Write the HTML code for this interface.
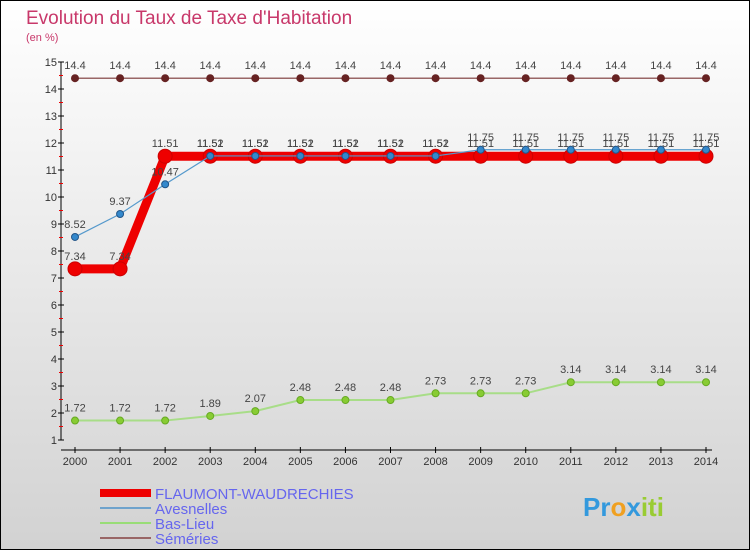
<!DOCTYPE html>
<html><head><meta charset="utf-8"><style>
body{margin:0;width:750px;height:550px;overflow:hidden}
svg{display:block;font-family:"Liberation Sans",sans-serif}
</style></head><body>
<svg id="c" width="750" height="550">
<defs><linearGradient id="bg" x1="0" y1="0" x2="0" y2="1"><stop offset="0" stop-color="#ffffff"/><stop offset="1" stop-color="#d2d2d2"/></linearGradient></defs>
<rect x="0.5" y="0.5" width="749" height="549" fill="url(#bg)" stroke="#000"/>
<text x="26" y="24" font-size="19" fill="#c8386a">Evolution du Taux de Taxe d'Habitation</text>
<text x="26" y="41" font-size="11" fill="#c8386a">(en %)</text>
<g id="axes"></g><g id="series"></g>
<g>
<rect x="100" y="489" width="51" height="8" fill="#ee0000"/>
<text x="155" y="499" font-size="15" fill="#6666ee">FLAUMONT-WAUDRECHIES</text>
<rect x="100" y="507" width="51" height="2" fill="#6fa3cc"/>
<text x="155" y="514" font-size="15" fill="#6666ee">Avesnelles</text>
<rect x="100" y="522" width="51" height="2" fill="#99dd77"/>
<text x="155" y="529" font-size="15" fill="#6666ee">Bas-Lieu</text>
<rect x="100" y="537" width="51" height="2" fill="#996666"/>
<text x="155" y="544" font-size="15" fill="#6666ee">Séméries</text>
</g>
<text x="583" y="516" font-size="26" font-weight="bold"><tspan fill="#3399dd">Pr</tspan><tspan fill="#f0a020">o</tspan><tspan fill="#3399dd">x</tspan><tspan fill="#99cc33">iti</tspan></text>
</svg>
<script>
const years=[2000,2001,2002,2003,2004,2005,2006,2007,2008,2009,2010,2011,2012,2013,2014];
const flaumont=[7.34,7.34,11.51,11.51,11.51,11.51,11.51,11.51,11.51,11.51,11.51,11.51,11.51,11.51,11.51];
const avesnelles=[8.52,9.37,10.47,11.52,11.52,11.52,11.52,11.52,11.52,11.75,11.75,11.75,11.75,11.75,11.75];
const basLieu=[1.72,1.72,1.72,1.89,2.07,2.48,2.48,2.48,2.73,2.73,2.73,3.14,3.14,3.14,3.14];
const semeries=[14.4,14.4,14.4,14.4,14.4,14.4,14.4,14.4,14.4,14.4,14.4,14.4,14.4,14.4,14.4];
const yTicks=[1,2,3,4,5,6,7,8,9,10,11,12,13,14,15];
const NS="http://www.w3.org/2000/svg";
const X=i=>75+i*(706-75)/(years.length-1);
const Y=v=>440-(v-1)*27;
function mk(t,a,p){const e=document.createElementNS(NS,t);for(const k in a)e.setAttribute(k,a[k]);p.appendChild(e);return e;}
const ax=document.getElementById('axes');
let e=mk('line',{x1:61,y1:Y(15),x2:61,y2:440,stroke:'#000'},ax);


e=mk('line',{x1:61,y1:450,x2:712,y2:450,stroke:'#000'},ax);


yTicks.forEach(v=>{
 mk('line',{x1:58,y1:Y(v),x2:64,y2:Y(v),stroke:'#000'},ax);
 if(v<15)mk('line',{x1:59,y1:Y(v+0.5),x2:63,y2:Y(v+0.5),stroke:'#e00'},ax);
 const t=mk('text',{x:57,y:Y(v)+4,'font-size':11,fill:'#333','text-anchor':'end'},ax);t.textContent=v;
 
 
});
years.forEach((y,i)=>{
 mk('line',{x1:X(i),y1:447,x2:X(i),y2:453,stroke:'#000'},ax);
 const t=mk('text',{x:X(i),y:465,'font-size':11,fill:'#333','text-anchor':'middle'},ax);t.textContent=y;
 
 
});
const sg=document.getElementById('series');
function series(vals,name,lw,lc,r,fill,stroke,sw){
 const g=mk('g',{},sg);
 
 
 mk('polyline',{points:vals.map((v,i)=>X(i)+','+Y(v)).join(' '),fill:'none',stroke:lc,'stroke-width':lw},g);
 vals.forEach((v,i)=>{
  const c=mk('circle',{cx:X(i),cy:Y(v),r:r,fill:fill,stroke:stroke,'stroke-width':sw},g);
  
  
  const t=mk('text',{x:X(i),y:Y(v)-9,'font-size':11,fill:'#444','text-anchor':'middle'},g);t.textContent=v;
  
  
 });
}
series(semeries,'semeries-series',1.5,'#996666',3.5,'#662222','#662222',1);
series(basLieu,'bas-lieu-series',2,'#a8dd88',3.5,'#88cc33','#66aa22',1);
series(flaumont,'flaumont-series',9,'#ee0000',7,'#ee0000','#cc0000',1);
series(avesnelles,'avesnelles-series',1.2,'#5599cc',3.5,'#3388cc','#225588',1);
</script>
</body></html>
